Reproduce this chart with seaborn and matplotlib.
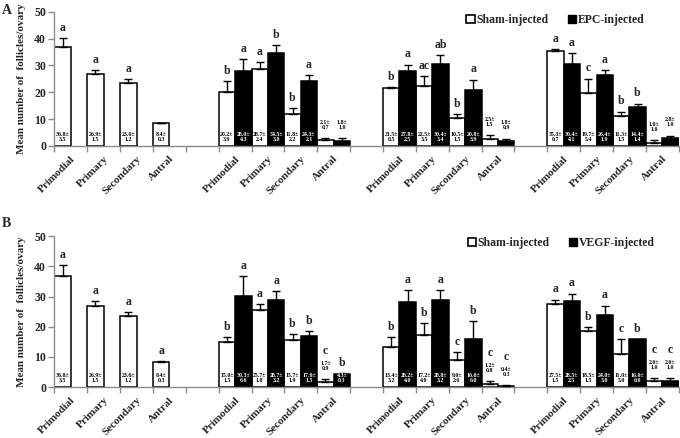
import numpy as np
import pandas as pd
import matplotlib
matplotlib.use('Agg')
import matplotlib.pyplot as plt
import seaborn as sns
from matplotlib.patches import Patch

# follicle stages
stages = ['Primodial', 'Primary', 'Secondary', 'Antral']

# control ovaries (same in both panels)
ctrl_mean = [36.8, 26.9, 23.6, 8.4]
ctrl_sd = [3.5, 1.5, 1.2, 0.3]
ctrl_let_a = ['a', 'a', 'a', '']
ctrl_let_b = ['a', 'a', 'a', 'a']

# panel A - sham vs EPC, three time points
a_sham_mean = [[20.2, 28.7, 11.8, 2.1], [21.5, 22.5, 10.5, 2.5], [35.3, 19.7, 11.3, 1.0]]
a_sham_sd = [[3.9, 2.4, 2.2, 0.7], [0.5, 3.5, 1.5, 1.5], [0.7, 5.4, 1.5, 1.0]]
a_sham_let = [['b', 'a', 'b', ''], ['b', 'ac', 'b', ''], ['a', 'c', 'b', '']]
a_epc_mean = [[28.0, 34.5, 24.3, 1.8], [27.8, 30.4, 20.8, 1.8], [30.4, 26.4, 14.4, 2.8]]
a_epc_sd = [[4.3, 3.0, 2.1, 1.0], [2.5, 3.4, 3.9, 0.9], [4.1, 1.9, 1.4, 1.0]]
a_epc_let = [['a', 'b', 'a', ''], ['a', 'ab', 'a', ''], ['a', 'a', 'b', '']]

# panel B - sham vs VEGF
b_sham_mean = [[15.0, 25.7, 15.7, 1.7], [13.4, 17.2, 9.0, 1.2], [27.5, 18.5, 11.0, 2.0]]
b_sham_sd = [[1.5, 1.8, 1.9, 0.9], [3.2, 4.0, 2.6, 0.8], [1.5, 1.5, 5.0, 1.0]]
b_sham_let = [['b', 'a', 'b', 'c'], ['b', 'b', 'c', 'c'], ['a', 'b', 'c', 'c']]
b_vegf_mean = [[30.3, 28.7, 17.0, 4.3], [28.2, 28.8, 16.0, 0.4], [28.5, 24.0, 16.0, 2.0]]
b_vegf_sd = [[6.6, 3.2, 1.5, 0.3], [4.0, 3.2, 6.0, 0.3], [2.5, 3.0, 0.0, 1.0]]
b_vegf_let = [['a', 'a', 'b', 'b'], ['a', 'a', 'b', 'c'], ['a', 'a', 'b', 'c']]

SERIF = ['Liberation Serif', 'DejaVu Serif']
sns.set_theme(style='white')
plt.rcParams['font.family'] = SERIF
plt.rcParams['font.weight'] = 'bold'

GRAY = '#8c8c8c'


def draw_panel(ax, ctrl_let, sham_mean, sham_sd, sham_let, trt_mean, trt_sd, trt_let, trt_name):
    sham = 'Sham-injected'
    order, labels, rows = [], [], []
    # control group: sham bars only
    for i, st in enumerate(stages):
        cid = 'c_' + st
        order.append(cid)
        labels.append(st)
        rows.append((cid, sham, ctrl_mean[i], ctrl_sd[i], ctrl_let[i]))
    for g in range(3):
        order.append('gap%d' % g)
        labels.append('')
        for i, st in enumerate(stages):
            cid = 'g%d_%s' % (g, st)
            order.append(cid)
            labels.append(st)
            rows.append((cid, sham, sham_mean[g][i], sham_sd[g][i], sham_let[g][i]))
            rows.append((cid, trt_name, trt_mean[g][i], trt_sd[g][i], trt_let[g][i]))
    df = pd.DataFrame(rows, columns=['cat', 'treat', 'value', 'sd', 'letter'])

    sns.barplot(data=df, x='cat', y='value', hue='treat', order=order,
                hue_order=[sham, trt_name], palette={sham: 'white', trt_name: 'black'},
                width=1.0, gap=0, errorbar=None, saturation=1, edgecolor='black',
                linewidth=1.1, legend=False, ax=ax)

    for _, r in df.iterrows():
        x = order.index(r['cat']) + (-0.25 if r['treat'] == sham else 0.25)
        top = r['value'] + r['sd']
        if r['sd'] > 0:
            ax.errorbar(x, r['value'], yerr=[[0], [r['sd']]], fmt='none', ecolor='black',
                        elinewidth=1.0, capsize=3, capthick=1.0, zorder=4)
        txt = '%.1f±\n%.1f' % (r['value'], r['sd'])
        if r['value'] >= 4:
            col = 'white' if r['treat'] != sham else 'black'
            ax.annotate(txt, (x, 0), xytext=(0, 3), textcoords='offset points',
                        ha='center', va='bottom', fontsize=4.2, color=col,
                        linespacing=1.0, zorder=5)
            let_off = 3
        else:
            ax.annotate(txt, (x, top), xytext=(0, 6), textcoords='offset points',
                        ha='center', va='bottom', fontsize=4.2, color='black',
                        linespacing=1.0, zorder=5)
            let_off = 16
        if r['letter']:
            ax.annotate(r['letter'], (x, top), xytext=(0, let_off), textcoords='offset points',
                        ha='center', va='bottom', fontsize=8.5, fontweight='bold')

    ax.set_xlim(-0.5, len(order) - 0.5)
    ax.set_ylim(0, 50)
    ax.set_yticks(np.arange(0, 51, 10))
    ax.set_xticks(range(len(order)))
    ax.set_xticklabels(labels, rotation=45, ha='right', rotation_mode='anchor',
                       fontsize=8, fontweight='bold')
    ax.set_xticks(np.arange(-0.5, len(order), 1), minor=True)
    ax.tick_params(axis='x', which='major', length=0, pad=6)
    ax.tick_params(axis='x', which='minor', length=4, width=1, color=GRAY, direction='out', bottom=True)
    ax.tick_params(axis='y', length=4, width=1, color=GRAY, direction='out', left=True,
                   labelsize=8.5, pad=2)
    for t in ax.get_yticklabels():
        t.set_fontweight('bold')
    ax.set_xlabel('')
    ax.set_ylabel('Mean number of  follicles/ovary', fontsize=8, fontweight='bold', labelpad=6)
    sns.despine(ax=ax)
    for s in ['left', 'bottom']:
        ax.spines[s].set_color(GRAY)
        ax.spines[s].set_linewidth(1.0)


fig = plt.figure(figsize=(6.8, 4.38), dpi=100)
axA = fig.add_axes([0.080, 0.667, 0.918, 0.306])
axB = fig.add_axes([0.080, 0.116, 0.918, 0.345])

draw_panel(axA, ctrl_let_a, a_sham_mean, a_sham_sd, a_sham_let,
           a_epc_mean, a_epc_sd, a_epc_let, 'EPC-injected')
draw_panel(axB, ctrl_let_b, b_sham_mean, b_sham_sd, b_sham_let,
           b_vegf_mean, b_vegf_sd, b_vegf_let, 'VEGF-injected')

for name, x, y in [('EPC-injected', 0.686, 0.954), ('VEGF-injected', 0.688, 0.445)]:
    handles = [Patch(facecolor='white', edgecolor='black', linewidth=1.2, label='Sham-injected'),
               Patch(facecolor='black', edgecolor='black', label=name)]
    fig.legend(handles=handles, loc='center left', bbox_to_anchor=(x, y), ncol=2,
               frameon=False, handlelength=0.7, handleheight=0.7, handletextpad=0.15,
               columnspacing=1.6, borderaxespad=0, borderpad=0,
               prop=dict(family=SERIF, weight='bold', size=8.5))

fig.text(0.003, 0.99, 'A', fontsize=10, fontweight='bold', va='top')
fig.text(0.003, 0.505, 'B', fontsize=10, fontweight='bold', va='top')

fig.savefig('out.png', dpi=100)
